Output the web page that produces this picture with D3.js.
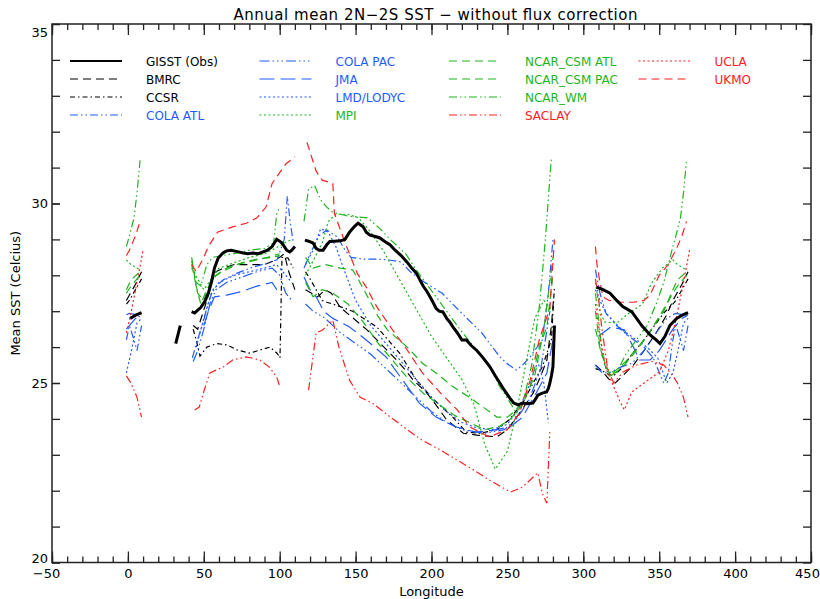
<!DOCTYPE html>
<html>
<head>
<meta charset="utf-8">
<script src="https://cdn.jsdelivr.net/npm/d3@7"></script>
<style>
	body { margin: 0; background: #fff; }
	text { font-family: "DejaVu Sans", sans-serif; fill: #000; }
</style>
</head>
<body>
<svg id="chart"></svg>
<script>

// [longitude, SST] pairs, one array per basin (IO = Indian, PO = Pacific, AO = Atlantic)
const gisstLake = [[31.5, 26.1], [34.5, 26.6]];
const gisstIO = [[42, 26.99], [44, 26.95], [46, 27.03], [48, 27.1], [51, 27.3], [53, 27.5], [55, 27.8], [57, 28.2], [59.5, 28.48], [62.6, 28.62], [65, 28.68], [68, 28.7], [72, 28.66], [76, 28.62], [79, 28.6], [82.5, 28.62], [86, 28.6], [89, 28.65], [92, 28.7], [95, 28.8], [98, 29.0], [100, 28.95], [101.5, 28.9], [104.6, 28.7], [106.6, 28.65], [108, 28.7], [110, 28.8]];
const gisstPO = [[116.6, 28.98], [119, 28.95], [122, 28.9], [124, 28.75], [126, 28.7], [128.6, 28.7], [131, 28.85], [133, 28.94], [136, 28.95], [140, 28.96], [143, 29.0], [146, 29.2], [149, 29.35], [151.6, 29.45], [155, 29.35], [157, 29.2], [159.5, 29.12], [163, 29.08], [166, 29.04], [169, 28.95], [172.6, 28.85], [176, 28.7], [180, 28.55], [183.6, 28.38], [187, 28.2], [190, 28.06], [192, 27.9], [194.5, 27.7], [197, 27.55], [199, 27.4], [201, 27.25], [203, 27.08], [205, 27.0], [207.5, 26.98], [210, 26.8], [212, 26.7], [214, 26.57], [217, 26.4], [220, 26.2], [223, 26.2], [226, 26.05], [230, 25.9], [234, 25.7], [238.5, 25.45], [242, 25.2], [245, 25.0], [248, 24.8], [251.6, 24.58], [254, 24.45], [257, 24.39], [260, 24.44], [263, 24.42], [266.8, 24.44], [268.5, 24.55], [270, 24.66], [273, 24.72], [275.8, 24.75], [277, 24.85], [278, 25.0], [279, 25.2], [280, 25.45], [280.5, 26.0], [281, 26.6]];
const gisstAO = [[308.7, 27.67], [313, 27.6], [317.6, 27.5], [322, 27.3], [326, 27.13], [332, 26.98], [338.5, 26.6], [344, 26.34], [348, 26.2], [350.5, 26.1], [353.8, 26.3], [357, 26.6], [361.5, 26.8], [365.6, 26.9], [369, 26.96]];

const bmrcIO = [[43, 26.6], [46, 26.5], [49, 26.9], [52, 27.3], [55, 27.8], [58, 28.1], [63, 28.2], [70, 28.3], [80, 28.3], [90, 28.3], [96, 28.4], [100, 28.5], [103, 28.6], [106, 28.1], [110, 27.6]];
const bmrcPO = [[117, 27.6], [121, 27.5], [125, 27.4], [130, 27.6], [134, 27.5], [140, 27.1], [150, 26.75], [157, 26.5], [164, 26.2], [171, 25.9], [177, 25.64], [183, 25.35], [188, 25.08], [197, 24.72], [204, 24.33], [210, 23.97], [221, 23.6], [230, 23.55], [243, 23.5], [250, 23.7], [258, 24.16], [267, 24.72], [272, 25.2], [276, 25.64], [279, 26.6], [280.5, 27.4]];
const bmrcAO = [[308, 25.5], [313, 25.3], [317, 25.1], [321, 25.0], [326, 25.2], [333, 25.5], [340, 25.9], [348, 26.4], [355, 26.9], [359, 27.3], [361, 27.45], [365, 27.75], [369, 28.1]];

const ccsrIO = [[43, 26.5], [45, 26.2], [47.5, 25.75], [52, 26.0], [58.7, 26.1], [65.3, 26.06], [71.9, 25.92], [80.4, 25.83], [87, 25.92], [93.6, 26.0], [98.2, 25.83], [100.2, 25.7], [101.5, 28.5], [105.5, 28.48], [108.8, 28.2]];
const ccsrPO = [[117, 28.1], [120, 27.9], [124, 27.6], [128, 27.3], [131, 27.25], [135, 27.2], [148, 27.0], [164, 26.56], [179, 25.83], [190, 25.08], [200, 24.6], [214, 24.05], [223, 23.63], [232, 23.6], [243, 23.7], [251, 23.97], [260, 24.44], [267, 25.0], [273, 25.45], [279, 26.2], [281, 27.7]];
const ccsrAO = [[308, 25.4], [312, 25.35], [316, 25.25], [320, 25.2], [325, 25.4], [332, 25.8], [340, 26.2], [347, 26.6], [353, 26.95], [359, 27.2], [361, 27.3], [365, 27.6], [369, 27.9]];

const colaAtlIO = [[42.5, 25.7], [45, 26.1], [49.5, 26.67], [52, 27.1], [56, 27.6], [62.6, 27.87], [72, 28.06], [80.4, 28.2], [91.6, 28.34], [98.2, 28.43], [103, 29.0], [105, 30.2], [107, 29.45], [109, 28.9]];
const colaAtlPO = [[116, 28.2], [120, 28.6], [126, 29.1], [131, 29.26], [138, 29.07], [143, 28.7], [147, 28.5], [155, 28.45], [165, 28.45], [173, 28.42], [180, 28.37], [186, 28.1], [193, 27.87], [207, 27.5], [220, 26.94], [233, 26.4], [245, 25.73], [251, 25.5], [256, 25.36], [260, 25.5], [265, 25.73], [273, 26.2], [277, 27.5], [280, 29.0]];
const colaAtlAO = [[308, 28.15], [311, 27.5], [315, 26.94], [322, 26.6], [330, 26.3], [340, 26.0], [346, 25.7], [350, 25.3], [353, 25.0], [356, 25.28], [359, 26.2], [361, 26.6], [364, 26.2], [366, 25.9], [369, 26.6]];

const colaPacIO = [[43, 25.6], [46, 25.9], [50, 26.5], [54, 27.2], [58, 27.6], [65, 27.8], [75, 27.95], [85, 28.1], [95, 28.2], [100, 28.0], [104, 27.5], [108, 27.3]];
const colaPacPO = [[117, 27.2], [122, 27.0], [130, 26.8], [140, 26.4], [150, 26.1], [160, 25.8], [170, 25.4], [180, 25.0], [190, 24.6], [200, 24.2], [210, 23.9], [220, 23.7], [235, 23.6], [248, 23.7], [256, 24.0], [264, 24.5], [272, 25.4], [278, 27.0]];
const colaPacAO = [[308, 25.5], [312, 25.3], [318, 25.3], [325, 25.45], [332, 25.55], [340, 25.9], [348, 26.4], [355, 26.8], [359, 26.9], [361, 26.94], [366, 26.9], [369, 26.8]];

const jmaIO = [[50, 26.6], [53, 27.0], [57, 27.4], [65, 27.45], [75, 27.55], [85, 27.7], [95, 27.8], [98, 27.6], [101, 27.5]];
const jmaPO = [[116, 27.95], [120, 27.6], [124, 27.4], [129, 27.0], [135, 26.8], [146, 26.56], [157, 26.2], [170, 25.73], [181, 25.08], [192, 24.44], [203, 24.05], [216, 23.78], [229, 23.63], [243, 23.7], [252, 23.78], [260, 24.05], [269, 24.72], [276, 25.28], [280, 26.2]];
const jmaAO = [[310, 26.3], [318, 26.56], [327, 26.48], [333, 26.0], [337, 25.64], [344, 25.64], [350, 25.9], [356, 26.3], [359, 26.5], [361, 26.6], [365, 26.8], [369, 26.9]];

const lmdIO = [[45, 26.0], [50, 26.8], [55, 27.5], [60, 27.8], [70, 28.0], [80, 28.1], [90, 28.2], [98, 28.3], [104, 28.0], [108, 27.8]];
const lmdPO = [[117, 28.3], [122, 28.7], [127, 29.3], [132, 29.2], [137, 28.8], [142, 28.2], [150, 27.3], [160, 26.6], [170, 26.1], [180, 25.6], [190, 25.1], [200, 24.6], [210, 24.2], [220, 23.9], [230, 23.75], [240, 23.7], [250, 23.85], [258, 24.3], [265, 25.0], [270, 25.6], [274, 25.0], [277, 23.9]];
const lmdAO = [[308, 27.6], [312, 27.2], [315, 26.94], [325, 26.5], [335, 26.2], [342, 26.0], [349, 25.7], [355, 25.0], [359, 25.28], [362, 25.83], [366, 26.67], [369, 26.8]];

const mpiIO = [[42, 28.2], [46, 27.9], [50, 27.6], [55, 27.9], [60, 28.2], [70, 28.35], [80, 28.5], [90, 28.6], [97, 28.75], [103, 28.9], [108, 29.0]];
const mpiPO = [[117, 28.0], [122, 28.4], [128, 28.9], [132, 29.5], [137, 29.7], [145, 29.7], [152, 29.6], [160, 29.2], [168, 28.7], [176, 28.1], [184, 27.5], [192, 26.9], [200, 26.3], [210, 25.7], [220, 25.1], [228, 24.4], [235, 23.3], [242, 22.6], [250, 23.1], [256, 24.2], [262, 25.5], [268, 26.8], [274, 27.3], [280, 27.0]];
const mpiAO = [[308, 27.8], [311, 27.0], [314, 26.7], [322, 26.67], [330, 26.94], [339, 27.2], [345, 27.78], [352, 28.2], [359, 28.43], [362, 28.3], [368, 28.15]];

const csmAtlIO = [[42, 28.5], [45, 27.7], [48, 27.2], [52, 27.6], [58, 28.0], [65, 28.2], [75, 28.35], [85, 28.45], [95, 28.5], [100, 28.55]];
const csmAtlPO = [[117, 28.5], [122, 28.2], [130, 28.3], [140, 28.2], [148, 28.15], [152, 27.87], [158, 27.4], [165, 26.84], [171, 26.48], [184, 26.0], [194, 25.55], [203, 25.28], [214, 24.9], [225, 24.6], [234, 24.33], [243, 24.05], [250, 24.05], [256, 24.25], [265, 24.9], [271, 26.0], [276, 26.56], [280, 28.0]];
const csmAtlAO = [[308, 27.0], [311, 26.0], [315, 25.4], [320, 25.3], [328, 25.6], [340, 26.2], [353, 27.0], [359, 27.6], [362, 27.87], [368, 28.1]];

const csmPacIO = [[42, 28.3], [46, 27.5], [50, 27.3], [55, 27.9], [62, 28.1], [72, 28.3], [82, 28.4], [92, 28.5], [100, 28.6]];
const csmPacPO = [[117, 27.8], [122, 27.4], [128, 27.6], [135, 27.5], [145, 27.2], [155, 26.7], [165, 26.1], [175, 25.6], [185, 25.1], [195, 24.7], [205, 24.4], [215, 24.1], [225, 23.9], [235, 23.7], [245, 23.8], [252, 24.0], [260, 24.4], [268, 25.2], [274, 26.5], [280, 28.5]];
const csmPacAO = [[308, 26.5], [312, 25.8], [318, 25.2], [325, 25.4], [335, 25.9], [345, 26.5], [355, 27.2], [359, 27.5], [362, 27.7], [368, 28.0]];

const ncarWmIO = [[42, 28.4], [45, 27.8], [48, 27.7], [52, 28.3], [56, 28.5], [62, 28.55], [70, 28.6], [80, 28.7], [90, 28.75], [96, 28.9], [98, 29.7], [100, 29.9]];
const ncarWmPO = [[116, 29.5], [119, 30.4], [123, 30.5], [127, 30.1], [131, 29.9], [135, 29.75], [140, 29.7], [145, 29.65], [158, 29.6], [166, 29.3], [174, 28.95], [183, 28.6], [190, 28.15], [196, 27.8], [203, 27.4], [211, 26.94], [219, 26.48], [228, 26.0], [237, 25.55], [245, 24.9], [252, 24.44], [256, 24.16], [260, 24.4], [266, 25.5], [271, 27.1], [275, 29.0], [279, 31.3]];
const ncarWmAO = [[308, 27.5], [310, 26.8], [312, 26.0], [314, 25.5], [318, 25.2], [322, 25.3], [328, 25.8], [335, 26.2], [342, 26.6], [348, 27.2], [353, 27.8], [359, 28.8], [361, 29.1], [364, 29.6], [366, 30.3], [368, 31.2]];

const saclayIO = [[44, 24.25], [47, 24.33], [51, 24.9], [54, 25.28], [63, 25.45], [69, 25.64], [78, 25.73], [87, 25.64], [93, 25.45], [98, 25.17], [100, 24.9]];
const saclayPO = [[119, 24.8], [124, 26.4], [128, 26.47], [135, 26.75], [139, 26.0], [146, 25.08], [153, 24.6], [161, 24.44], [173, 24.05], [184, 23.7], [194, 23.4], [206, 23.13], [217, 22.85], [228, 22.57], [238, 22.3], [252, 21.96], [260, 22.1], [270, 22.5], [273, 21.93], [276, 21.65], [278, 23.7]];
const saclayAO = [[308, 27.9], [310, 27.4], [312, 26.6], [314, 26.0], [316, 25.4], [320, 25.0], [326, 25.3], [335, 25.5], [345, 25.6], [353, 25.5], [359, 25.2], [362, 25.0], [366, 24.6], [369, 24.05]];

const uclaAO = [[308, 27.2], [311, 26.3], [315, 25.4], [320, 24.9], [324, 24.5], [327, 24.25], [332, 24.75], [340, 25.0], [350, 25.3], [356, 25.9], [359, 26.4], [361, 26.75], [366, 27.8], [370, 28.7]];

const ukmoIO = [[42, 28.3], [45, 28.1], [50, 28.5], [53, 28.8], [59, 29.2], [69, 29.35], [78, 29.45], [85, 29.6], [91, 29.9], [95, 30.56], [104, 31.1], [110, 31.3]];
const ukmoPO = [[118, 31.7], [124, 30.9], [128, 30.65], [135, 30.56], [136, 29.73], [140, 29.26], [145, 28.7], [151, 28.06], [157, 27.67], [164, 27.12], [173, 26.56], [184, 25.92], [194, 25.28], [206, 24.72], [217, 24.25], [225, 23.78], [238, 23.5], [250, 23.7], [258, 24.16], [265, 25.08], [271, 26.2], [278, 27.1], [281, 29.0]];
const ukmoAO = [[308, 28.8], [309, 28.3], [311, 27.8], [313, 27.4], [317, 27.3], [325, 27.25], [333, 27.25], [340, 27.3], [344, 27.45], [350, 28.0], [356, 28.3], [359, 28.55], [361, 28.7], [365, 29.1], [368, 29.5]];

const seriesNames = ["GISST (Obs)", "BMRC", "CCSR", "COLA ATL", "COLA PAC", "JMA", "LMD/LODYC", "MPI", "NCAR_CSM ATL", "NCAR_CSM PAC", "NCAR_WM", "SACLAY", "UCLA", "UKMO"];
const seriesData = [
	[gisstLake, gisstIO, gisstPO, gisstAO],
	[bmrcIO, bmrcPO, bmrcAO],
	[ccsrIO, ccsrPO, ccsrAO],
	[colaAtlIO, colaAtlPO, colaAtlAO],
	[colaPacIO, colaPacPO, colaPacAO],
	[jmaIO, jmaPO, jmaAO],
	[lmdIO, lmdPO, lmdAO],
	[mpiIO, mpiPO, mpiAO],
	[csmAtlIO, csmAtlPO, csmAtlAO],
	[csmPacIO, csmPacPO, csmPacAO],
	[ncarWmIO, ncarWmPO, ncarWmAO],
	[saclayIO, saclayPO, saclayAO],
	[uclaAO],
	[ukmoIO, ukmoPO, ukmoAO]
];

const xTicks = [-50, 0, 50, 100, 150, 200, 250, 300, 350, 400, 450];
const yTicks = [20, 25, 30, 35];

// styles
var black = "#000", blue = "#1f5bff", green = "#1db41d", red = "#ff2020";
var colors = [black, black, black, blue, blue, blue, blue, green, green, green, green, red, red, red];
var dashes = ["none", "8,5", "5,3,1.5,3", "8,3,1.5,3,1.5,3", "10,3,1.5,3,1.5,3,1.5,3", "15,6", "2,2.5", "2,2.5",
	"8,5", "8,5", "8,3,1.5,3,1.5,3", "8,3,1.5,3,1.5,3", "2,2.5", "8,5"];

var width = 820, height = 599;
var svg = d3.select("#chart").attr("width", width).attr("height", height);

var x = d3.scaleLinear().domain([-50, 450]).range([52, 811]);
var y = d3.scaleLinear().domain([20, 35]).range([562.5, 24]);

var line = d3.line()
	.x(d => x(d[0]))
	.y(d => y(d[1]));

// the atlantic is drawn again east of greenwich
function withWrap(segs) {
	var out = segs.slice();
	segs.forEach(s => {
		var w = s.filter(d => d[0] >= 359).map(d => [d[0] - 360, d[1]]);
		if (w.length > 1) out.push(w);
	});
	return out;
}

var order = d3.range(1, seriesNames.length).concat([0]);
var lines = svg.append("g").attr("fill", "none");
order.forEach(i => {
	lines.append("g")
		.selectAll("path")
		.data(withWrap(seriesData[i]))
		.join("path")
		.attr("d", line)
		.attr("stroke", colors[i])
		.attr("stroke-width", i == 0 ? 3 : 1.2)
		.attr("stroke-dasharray", dashes[i]);
});

// axes
function axisStyle(g) {
	g.select(".domain").remove();
	g.selectAll("line").attr("stroke", "#222").attr("stroke-width", 1.3);
	g.selectAll("text").attr("font-size", 13).attr("font-family", "DejaVu Sans");
}

svg.append("g").attr("transform", `translate(0,${y(20)})`)
	.call(d3.axisBottom(x).tickValues(d3.range(-50, 451, 10)).tickSize(-6).tickFormat(""))
	.call(axisStyle);
svg.append("g").attr("transform", `translate(0,${y(20)})`)
	.call(d3.axisBottom(x).tickValues(xTicks).tickSize(-11).tickPadding(6).tickFormat(d => d < 0 ? "\u2212" + (-d) : d))
	.call(axisStyle)
	.call(g => g.selectAll("text").attr("dx", d => d == 450 ? -4 : d == -50 ? -6 : 0));
svg.append("g").attr("transform", `translate(0,${y(35)})`)
	.call(d3.axisTop(x).tickValues(d3.range(-50, 451, 10)).tickSize(-6).tickFormat(""))
	.call(axisStyle);
svg.append("g").attr("transform", `translate(0,${y(35)})`)
	.call(d3.axisTop(x).tickValues(xTicks).tickSize(-11).tickFormat(""))
	.call(axisStyle);
svg.append("g").attr("transform", `translate(${x(-50)},0)`)
	.call(d3.axisLeft(y).tickValues(d3.range(20, 35.1, 1)).tickSize(-8).tickFormat(""))
	.call(axisStyle);
svg.append("g").attr("transform", `translate(${x(-50)},0)`)
	.call(d3.axisLeft(y).tickValues(yTicks).tickSize(-8).tickPadding(4).tickFormat(d3.format("d")))
	.call(axisStyle)
	.call(g => g.selectAll("text").attr("dy", d => d == 35 ? "0.95em" : d == 20 ? "0em" : "0.32em"));
svg.append("g").attr("transform", `translate(${x(450)},0)`)
	.call(d3.axisRight(y).tickValues(d3.range(20, 35.1, 1)).tickSize(-8).tickFormat(""))
	.call(axisStyle);

svg.append("rect")
	.attr("x", x(-50)).attr("y", y(35))
	.attr("width", x(450) - x(-50)).attr("height", y(20) - y(35))
	.attr("fill", "none").attr("stroke", "#222").attr("stroke-width", 1.5);

// titles
svg.append("text")
	.attr("x", (x(-50) + x(450)) / 2 + 4).attr("y", 20)
	.attr("text-anchor", "middle").attr("font-size", 15)
	.attr("textLength", 404).attr("lengthAdjust", "spacing")
	.text("Annual mean 2N\u22122S SST \u2212 without flux correction");
svg.append("text")
	.attr("x", (x(-50) + x(450)) / 2).attr("y", 596)
	.attr("text-anchor", "middle").attr("font-size", 13)
	.text("Longitude");
svg.append("text")
	.attr("transform", `translate(20,${(y(20) + y(35)) / 2}) rotate(-90)`)
	.attr("text-anchor", "middle").attr("font-size", 13)
	.text("Mean SST (Celcius)");

// legend, four rows per column
var legend = svg.append("g");
seriesNames.forEach((name, i) => {
	var col = Math.floor(i / 4), row = i % 4;
	var lx = 70 + col * 189.5, ly = 61 + row * 18;
	legend.append("line")
		.attr("x1", lx).attr("x2", lx + 52)
		.attr("y1", ly).attr("y2", ly)
		.attr("stroke", colors[i])
		.attr("stroke-width", i == 0 ? 1.8 : 1.2)
		.attr("stroke-dasharray", dashes[i]);
	legend.append("text")
		.attr("x", lx + 76).attr("y", ly + 4.5)
		.attr("font-size", 12)
		.style("fill", colors[i])
		.text(name);
});

</script>
</body>
</html>
